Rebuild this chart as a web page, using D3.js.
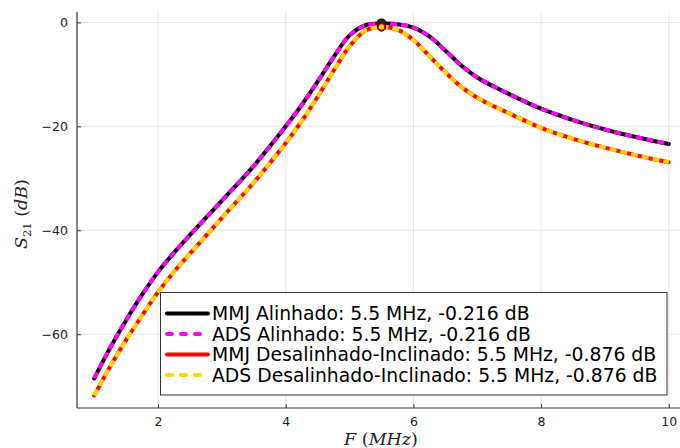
<!DOCTYPE html>
<html>
<head>
<meta charset="utf-8">
<script src="https://cdn.jsdelivr.net/npm/d3@7"></script>
<style>
  html, body { margin: 0; padding: 0; background: #fff; }
  svg { display: block; }
</style>
</head>
<body>
<svg id="chart" width="680" height="448"></svg>
<script>
// ---- data ----
const freqA = [1.0, 1.25, 1.5, 1.75, 2.0, 2.25, 2.5, 3.0, 3.5, 4.0, 4.25, 4.5, 4.75, 5.0, 5.25, 5.5, 5.75, 6.0, 6.25, 6.5, 6.75, 7.0, 7.25, 7.5, 8.0, 8.5, 9.0, 9.5, 10.0];
const mmjAlinhado = [-68.5, -62.6, -57.3, -52.4, -48.0, -44.3, -40.9, -34.3, -27.6, -20.0, -15.9, -11.4, -6.7, -2.5, -0.55, -0.216, -0.35, -1.0, -2.7, -5.4, -8.3, -10.6, -12.3, -13.8, -16.6, -18.8, -20.6, -22.1, -23.4];
const adsAlinhado = [-68.5, -62.6, -57.3, -52.4, -48.0, -44.3, -40.9, -34.3, -27.6, -20.0, -15.9, -11.4, -6.7, -2.5, -0.55, -0.216, -0.35, -1.0, -2.7, -5.4, -8.3, -10.6, -12.3, -13.8, -16.6, -18.8, -20.6, -22.1, -23.4];

const freqD = [1.0, 1.25, 1.5, 1.75, 2.0, 2.25, 2.5, 3.0, 3.5, 4.0, 4.25, 4.5, 4.75, 5.0, 5.25, 5.5, 5.75, 6.0, 6.25, 6.5, 6.75, 7.0, 7.25, 7.5, 8.0, 8.5, 9.0, 9.5, 10.0];
const mmjDesalinhado = [-71.8, -66.2, -61.1, -56.4, -51.9, -48.0, -44.5, -37.6, -30.8, -23.2, -19.0, -14.3, -9.3, -4.6, -1.55, -0.876, -1.4, -3.4, -6.5, -9.6, -12.4, -14.5, -16.1, -17.5, -20.3, -22.4, -24.1, -25.6, -26.9];
const adsDesalinhado = [-71.8, -66.2, -61.1, -56.4, -51.9, -48.0, -44.5, -37.6, -30.8, -23.2, -19.0, -14.3, -9.3, -4.6, -1.55, -0.876, -1.4, -3.4, -6.5, -9.6, -12.4, -14.5, -16.1, -17.5, -20.3, -22.4, -24.1, -25.6, -26.9];

const peakFreq = [5.5, 5.5];
const peakVal = [-0.216, -0.876];

const xTicks = [2, 4, 6, 8, 10];
const yTicks = [0, -20, -40, -60];
const legendLabels = [
  "MMJ Alinhado: 5.5 MHz, -0.216 dB",
  "ADS Alinhado: 5.5 MHz, -0.216 dB",
  "MMJ Desalinhado-Inclinado: 5.5 MHz, -0.876 dB",
  "ADS Desalinhado-Inclinado: 5.5 MHz, -0.876 dB"
];
const seriesColors = ["#000000", "#ff00ff", "#ff0000", "#ffd700"];
const seriesDashed = [false, true, false, true];

// ---- layout ----
const svg = d3.select("#chart");
const L = 77, T = 12, B = 408, R = 686;
const x = d3.scaleLinear().domain([0.73, 10.27]).range([L, R]);
const y = d3.scaleLinear().domain([-74.2, 2.0]).range([B, T]);

// grid
const grid = svg.append("g");
grid.selectAll("line.gx").data(xTicks).enter().append("line")
  .attr("x1", d => x(d)).attr("x2", d => x(d)).attr("y1", T).attr("y2", B)
  .attr("stroke", "#e6e6e6").attr("stroke-width", 1);
grid.selectAll("line.gy").data(yTicks).enter().append("line")
  .attr("x1", L).attr("x2", R).attr("y1", d => y(d)).attr("y2", d => y(d))
  .attr("stroke", "#e6e6e6").attr("stroke-width", 1);

// axes
const fmt = d => (d < 0 ? "\u2212" + Math.abs(d) : String(d));
const xAxis = d3.axisBottom(x).tickValues(xTicks).tickSize(-4).tickPadding(9).tickFormat(fmt);
const yAxis = d3.axisLeft(y).tickValues(yTicks).tickSize(-4).tickPadding(9).tickFormat(fmt);
const gx = svg.append("g").attr("transform", `translate(0,${B})`).call(xAxis);
const gy = svg.append("g").attr("transform", `translate(${L},0)`).call(yAxis);
[gx, gy].forEach(g => {
  g.select(".domain").attr("stroke", "#333").attr("stroke-width", 1.2);
  g.selectAll(".tick line").attr("stroke", "#333");
  g.selectAll(".tick text").attr("fill", "#222")
    .style("font-family", "DejaVu Sans").style("font-size", "12.5px");
});
gy.select(".domain").attr("d", `M0,${T}V${B}`);
gx.select(".domain").attr("d", `M${L},0H${R}`);

// lines
svg.append("clipPath").attr("id", "clip").append("rect")
  .attr("x", L).attr("y", T - 10).attr("width", R - L).attr("height", B - T + 10);
const plot = svg.append("g").attr("clip-path", "url(#clip)");
const line = (fx) => d3.line().x((d, i) => x(fx[i])).y(d => y(d)).curve(d3.curveCatmullRom.alpha(0.5));

const series = [
  [freqA, mmjAlinhado],
  [freqA, adsAlinhado],
  [freqD, mmjDesalinhado],
  [freqD, adsDesalinhado]
];
series.forEach((s, i) => {
  const p = plot.append("path").datum(s[1])
    .attr("d", line(s[0]))
    .attr("fill", "none")
    .attr("stroke", seriesColors[i])
    .attr("stroke-width", 4)
    .attr("stroke-linejoin", "round");
  if (seriesDashed[i]) p.attr("stroke-dasharray", "7,4");
  else p.attr("stroke-linecap", "round");
});

// peak markers
plot.append("circle").attr("cx", x(peakFreq[0])).attr("cy", y(peakVal[0])).attr("r", 4.5)
  .attr("fill", "#3a1a3a").attr("stroke", "#000").attr("stroke-width", 1.2);
plot.append("circle").attr("cx", x(peakFreq[1])).attr("cy", y(peakVal[1])).attr("r", 4.2)
  .attr("fill", "#cc0000").attr("stroke", "#400").attr("stroke-width", 1);
plot.append("circle").attr("cx", x(peakFreq[1])).attr("cy", y(peakVal[1])).attr("r", 2.6)
  .attr("fill", "#ffd700");

// legend
const lg = svg.append("g");
lg.append("rect").attr("x", 160.5).attr("y", 292.5).attr("width", 506.5).attr("height", 102.5)
  .attr("fill", "#fff").attr("stroke", "#333").attr("stroke-width", 1);
const rowY = [313.5, 334, 354.5, 375];
legendLabels.forEach((t, i) => {
  const ln = lg.append("line").attr("y1", rowY[i]).attr("y2", rowY[i])
    .attr("stroke", seriesColors[i]).attr("stroke-width", 4).attr("stroke-linecap", "round");
  if (seriesDashed[i]) ln.attr("x1", 167).attr("x2", 200).attr("stroke-dasharray", "5,9");
  else ln.attr("x1", 167).attr("x2", 208);
  lg.append("text").attr("x", 212).attr("y", rowY[i]).attr("dy", "0.36em")
    .style("font-family", "DejaVu Sans").style("font-size", "18.8px").attr("fill", "#000")
    .text(t);
});

// axis labels
const xl = svg.append("text").attr("x", 381).attr("y", 445).attr("text-anchor", "middle")
  .style("font-family", "DejaVu Serif").style("font-size", "17.5px").attr("fill", "#222");
xl.append("tspan").style("font-style", "italic").text("F");
xl.append("tspan").text(" (");
xl.append("tspan").style("font-style", "italic").text("MHz");
xl.append("tspan").text(")");

const yl = svg.append("text").attr("transform", "translate(27,214) rotate(-90)").attr("text-anchor", "middle")
  .style("font-family", "DejaVu Serif").style("font-size", "17.5px").attr("fill", "#222");
yl.append("tspan").style("font-style", "italic").text("S");
yl.append("tspan").attr("dy", 4).style("font-size", "11.5px").text("21");
yl.append("tspan").attr("dy", -4).text(" (");
yl.append("tspan").style("font-style", "italic").text("dB");
yl.append("tspan").text(")");
</script>
</body>
</html>
